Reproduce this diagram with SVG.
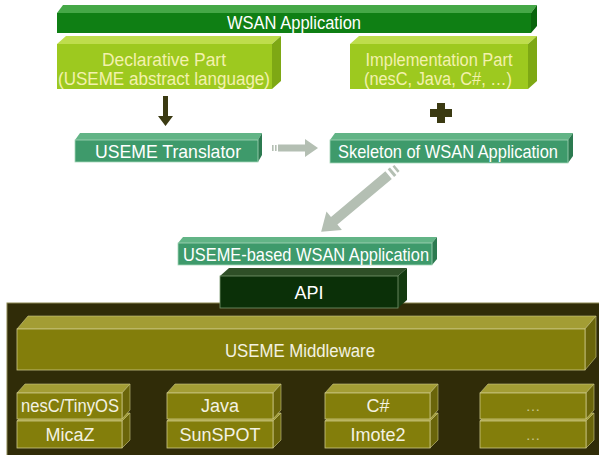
<svg xmlns="http://www.w3.org/2000/svg" width="599" height="455" viewBox="0 0 599 455">
  <style>
    text { font-family: "Liberation Sans", Arial, sans-serif; text-anchor: middle; }
    .app .f { fill: #0f7f14; } .app .t { fill: #45a847; } .app .s { fill: #0a650d; }
    .part .f { fill: #9dc91f; } .part .t { fill: #bedd4c; } .part .s { fill: #7ea814; }
    .sea .f { fill: #3e9a6b; stroke: #a6d6b8; stroke-width: 0.8; } .sea .t { fill: #62b486; } .sea .s { fill: #2c7a50; }
    .api .f { fill: #0b3008; stroke: #7a9a70; stroke-width: 0.8; } .api .t { fill: #2f4f27; } .api .s { fill: #143a10; }
    .olv .f { fill: #837e0b; stroke: #cdc988; stroke-width: 0.8; } .olv .t { fill: #a39d34; stroke: #cdc988; stroke-width: 0.6; } .olv .s { fill: #6a650a; stroke: #cdc988; stroke-width: 0.6; }
    .lbl-w { fill: #ffffff; }
    .lbl-y { fill: #f3f1ad; }
    .lbl-o { fill: #f3f2e2; }
    .dots { fill: #c9c68e; }
    .dark { fill: #3b3a12; }
    .grey { fill: #b4bfb3; }
  </style>

  <!-- top application bar -->
  <g id="wsan-app" class="app">
    <polygon class="t" points="57,13 63,5 537,5 531,13"/>
    <polygon class="s" points="531,13 537,5 537,26 531,33"/>
    <rect class="f" x="57" y="13" width="474" height="20"/>
    <text class="lbl-w" x="294" y="29" font-size="17.5" textLength="134" lengthAdjust="spacingAndGlyphs">WSAN Application</text>
  </g>

  <g id="declarative-part" class="part">
    <polygon class="t" points="57,44 66,36 281,36 272,44"/>
    <polygon class="s" points="272,44 281,36 281,81 272,89"/>
    <rect class="f" x="57" y="44" width="215" height="45"/>
    <text class="lbl-y" x="164" y="66" font-size="18" textLength="124" lengthAdjust="spacingAndGlyphs">Declarative Part</text>
    <text class="lbl-y" x="164" y="85" font-size="18" textLength="212" lengthAdjust="spacingAndGlyphs">(USEME abstract language)</text>
  </g>

  <g id="implementation-part" class="part">
    <polygon class="t" points="350,44 359,36 537,36 528,44"/>
    <polygon class="s" points="528,44 537,36 537,81 528,89"/>
    <rect class="f" x="350" y="44" width="178" height="45"/>
    <text class="lbl-y" x="439" y="66" font-size="18" textLength="147" lengthAdjust="spacingAndGlyphs">Implementation Part</text>
    <text class="lbl-y" x="438" y="85" font-size="18" textLength="148" lengthAdjust="spacingAndGlyphs">(nesC, Java, C#, …)</text>
  </g>

  <g id="translator" class="sea">
    <polygon class="t" points="75,140 80,133 262,133 258,140"/>
    <polygon class="s" points="258,140 262,133 262,155 258,162"/>
    <rect class="f" x="75" y="140" width="183" height="22"/>
    <text class="lbl-w" x="168" y="158" font-size="18.5" textLength="146" lengthAdjust="spacingAndGlyphs">USEME Translator</text>
  </g>

  <g id="skeleton" class="sea">
    <polygon class="t" points="330,140 335,133 573,133 568,140"/>
    <polygon class="s" points="568,140 573,133 573,156 568,163"/>
    <rect class="f" x="330" y="140" width="238" height="23"/>
    <text class="lbl-w" x="448" y="158" font-size="18.5" textLength="220" lengthAdjust="spacingAndGlyphs">Skeleton of WSAN Application</text>
  </g>

  <g id="useme-app" class="sea">
    <polygon class="t" points="178,243 183,237 437,237 432,243"/>
    <polygon class="s" points="432,243 437,237 437,259 432,265"/>
    <rect class="f" x="178" y="243" width="254" height="22"/>
    <text class="lbl-w" x="306" y="261" font-size="18.5" textLength="246" lengthAdjust="spacingAndGlyphs">USEME-based WSAN Application</text>
  </g>

  <!-- platform area -->
  <rect id="platform" x="7" y="303" width="594" height="154" fill="#302c08" stroke="#8c8852" stroke-width="1"/>

  <g id="api" class="api">
    <polygon class="t" points="220,276 229,268 407,268 398,276"/>
    <polygon class="s" points="398,276 407,268 407,300 398,308"/>
    <rect class="f" x="220" y="276" width="178" height="32"/>
    <text class="lbl-w" x="309" y="299" font-size="18">API</text>
  </g>

  <g id="middleware" class="olv">
    <polygon class="t" points="17,329 28,316 596,316 585,329"/>
    <polygon class="s" points="585,329 596,316 596,357 585,370"/>
    <rect class="f" x="17" y="329" width="568" height="41"/>
    <text class="lbl-o" x="300" y="357" font-size="18" textLength="150" lengthAdjust="spacingAndGlyphs">USEME Middleware</text>
  </g>

  <g id="micaz" class="olv">
    <polygon class="t" points="17,421 25,413 130,413 122,421"/>
    <polygon class="s" points="122,421 130,413 130,440 122,448"/>
    <rect class="f" x="17" y="421" width="105" height="27"/>
    <text class="lbl-o" x="70" y="441" font-size="18">MicaZ</text>
  </g>
  <g id="nesc-tinyos" class="olv">
    <polygon class="t" points="17,393 25,384 130,384 122,393"/>
    <polygon class="s" points="122,393 130,384 130,410 122,419"/>
    <rect class="f" x="17" y="393" width="105" height="26"/>
    <text class="lbl-o" x="70" y="412" font-size="18" textLength="98" lengthAdjust="spacingAndGlyphs">nesC/TinyOS</text>
  </g>

  <g id="sunspot" class="olv">
    <polygon class="t" points="167,421 175,413 281,413 273,421"/>
    <polygon class="s" points="273,421 281,413 281,440 273,448"/>
    <rect class="f" x="167" y="421" width="106" height="27"/>
    <text class="lbl-o" x="220" y="441" font-size="18">SunSPOT</text>
  </g>
  <g id="java" class="olv">
    <polygon class="t" points="167,393 175,384 281,384 273,393"/>
    <polygon class="s" points="273,393 281,384 281,410 273,419"/>
    <rect class="f" x="167" y="393" width="106" height="26"/>
    <text class="lbl-o" x="220" y="412" font-size="18">Java</text>
  </g>

  <g id="imote2" class="olv">
    <polygon class="t" points="325,421 333,413 438,413 430,421"/>
    <polygon class="s" points="430,421 438,413 438,440 430,448"/>
    <rect class="f" x="325" y="421" width="105" height="27"/>
    <text class="lbl-o" x="378" y="441" font-size="18">Imote2</text>
  </g>
  <g id="csharp" class="olv">
    <polygon class="t" points="325,393 333,384 438,384 430,393"/>
    <polygon class="s" points="430,393 438,384 438,410 430,419"/>
    <rect class="f" x="325" y="393" width="105" height="26"/>
    <text class="lbl-o" x="378" y="412" font-size="18">C#</text>
  </g>

  <g id="other-device" class="olv">
    <polygon class="t" points="480,421 488,413 594,413 586,421"/>
    <polygon class="s" points="586,421 594,413 594,440 586,448"/>
    <rect class="f" x="480" y="421" width="106" height="27"/>
    <text class="dots" x="533" y="440" font-size="15">…</text>
  </g>
  <g id="other-language" class="olv">
    <polygon class="t" points="480,393 488,384 594,384 586,393"/>
    <polygon class="s" points="586,393 594,384 594,410 586,419"/>
    <rect class="f" x="480" y="393" width="106" height="26"/>
    <text class="dots" x="533" y="411" font-size="15">…</text>
  </g>

  <!-- connectors -->
  <g id="connectors">
    <!-- declarative part down into translator -->
    <polygon class="dark" points="163,96 168,96 168,116 173,116 165.5,126 158,116 163,116"/>
    <!-- plus sign between the two parts -->
    <path class="dark" d="M437,103 h8 v6 h7 v8 h-7 v6 h-8 v-6 h-7 v-8 h7 z"/>
    <!-- translator to skeleton -->
    <g transform="translate(272,148)">
      <rect class="grey" x="0" y="-3" width="1.6" height="6"/>
      <rect class="grey" x="3" y="-3" width="1.6" height="6"/>
      <polygon class="grey" points="6,-3.5 33,-3.5 33,-9 46,0 33,9 33,3.5 6,3.5"/>
    </g>
    <!-- skeleton to USEME-based application -->
    <g transform="translate(397,168) rotate(140)">
      <rect class="grey" x="0" y="-4" width="2.5" height="8"/>
      <rect class="grey" x="5" y="-5" width="3" height="10"/>
      <polygon class="grey" points="11,-5 82,-5 82,-12 99,0 82,12 82,5 11,5"/>
    </g>
  </g>
</svg>
